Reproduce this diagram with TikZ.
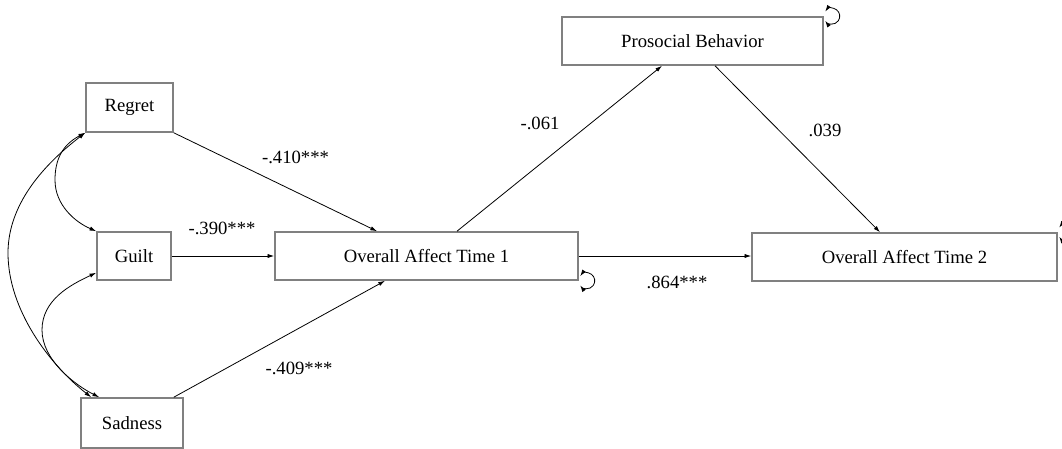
\documentclass[tikz,border=0pt]{standalone}
\usepackage{fontspec}
\setmainfont{Liberation Serif}
\usetikzlibrary{arrows.meta}
\definecolor{boxgray}{RGB}{128,128,128}
\tikzset{
  var/.style={draw=boxgray, line width=1.2pt, fill=white, inner sep=0pt,
    font=\fontsize{14}{16}\selectfont},
  path/.style={line width=0.6pt, -{Latex[length=5pt,width=3.2pt]}},
  cov/.style={line width=0.6pt, {Latex[length=5pt,width=3.2pt]}-{Latex[length=5pt,width=3.2pt]}},
  coef/.style={font=\fontsize{14}{16}\selectfont, inner sep=0pt},
}
\begin{document}
\begin{tikzpicture}[x=0.75pt, y=-0.75pt]
\useasboundingbox (0,0) rectangle (1062,449);
\clip (0,0) rectangle (1062,449);

% observed variables
\node[var, minimum width=87*0.75pt, minimum height=49*0.75pt] (regret) at (129.5,107.5) {Regret};
\node[var, minimum width=74*0.75pt, minimum height=48*0.75pt] (guilt) at (134,256) {Guilt};
\node[var, minimum width=102*0.75pt, minimum height=50*0.75pt] (sad) at (132,423) {Sadness};
\node[var, minimum width=303*0.75pt, minimum height=48*0.75pt] (oat1) at (426.5,256) {Overall Affect Time 1};
\node[var, minimum width=261*0.75pt, minimum height=48*0.75pt] (pro) at (692.5,41) {Prosocial Behavior};
\node[var, minimum width=305*0.75pt, minimum height=48*0.75pt] (oat2) at (904.5,257) {Overall Affect Time 2};

% regression paths
\draw[path] (regret.south east) -- ([shift={(-49.5,0)}]oat1.north);
\draw[path] (guilt.east) -- (oat1.west);
\draw[path] ([shift={(-10,0)}]sad.north east) -- ([shift={(-41.5,0)}]oat1.south);
\draw[path] ([shift={(30.5,0)}]oat1.north) -- ([shift={(-30.5,0)}]pro.south);
\draw[path] ([shift={(22.5,0)}]pro.south) -- ([shift={(-24.5,0)}]oat2.north);
\draw[path] (oat1.east) -- (oat1.east -| oat2.west);

% covariances among the predictors
\draw[cov] (regret.south west) .. controls (62,145) and (55,160) .. (55,180)
  .. controls (55,205) and (75,222) .. (guilt.north west);
\draw[cov] (regret.south west) .. controls (50,160) and (8,200) .. (8,253)
  .. controls (8,310) and (50,365) .. ([shift={(11,0)}]sad.north west);
\draw[cov] ([shift={(0,-8)}]guilt.south west) .. controls (70,285) and (42,300) .. (42,330)
  .. controls (42,360) and (75,385) .. ([shift={(19,0)}]sad.north west);

% residual variances
\draw[cov] ([shift={(1.4,-4.6)}]oat1.south east) arc[start angle=215, end angle=505, radius=8];
\draw[cov] ([shift={(1.4,-4.6)}]pro.north east) arc[start angle=215, end angle=505, radius=8];
\draw[cov] ([shift={(1.4,-4.6)}]oat2.north east) arc[start angle=215, end angle=505, radius=8];

% coefficients
\node[coef] (c1) at (295.5,157) {-.410***};
\node[coef] (c2) at (222,228) {-.390***};
\node[coef] (c3) at (299,368) {-.409***};
\node[coef] (c4) at (540,123) {-.061};
\node[coef] (c5) at (825,130) {.039};
\node[coef] (c6) at (677,282) {.864***};
\end{tikzpicture}
\end{document}
